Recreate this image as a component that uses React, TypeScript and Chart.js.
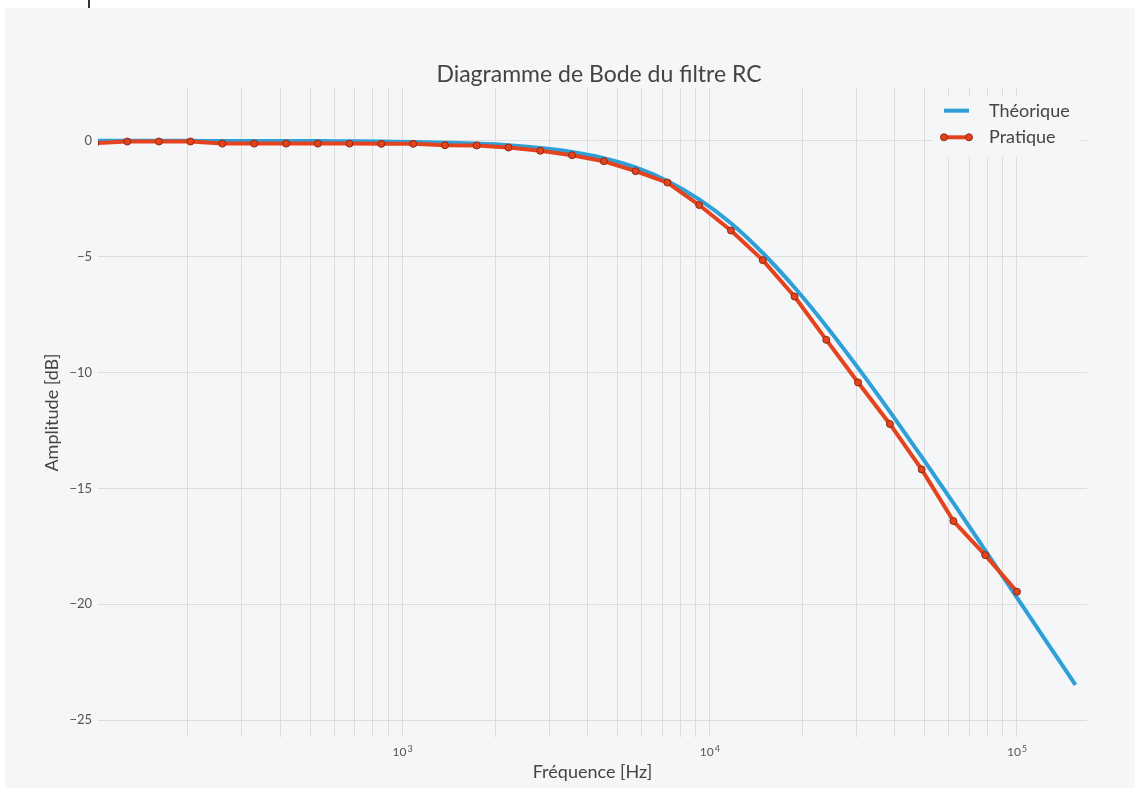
import { useEffect, useRef } from 'react';
import { Chart, registerables } from 'chart.js';

Chart.register(...registerables);

const freqPratique = [100, 127, 161, 204, 259, 329, 418, 530, 672, 853, 1083, 1374, 1743, 2212, 2807, 3562, 4520, 5736, 7279, 9237, 11721, 14874, 18874, 23950, 30392, 38566, 48939, 62102, 78805, 100000];
const ampPratique = [-0.10, -0.03, -0.03, -0.03, -0.12, -0.12, -0.12, -0.12, -0.12, -0.13, -0.13, -0.19, -0.20, -0.29, -0.43, -0.62, -0.88, -1.31, -1.80, -2.77, -3.87, -5.15, -6.72, -8.59, -10.43, -12.22, -14.18, -16.41, -17.88, -19.46];

// courbe théorique (bleue)
const freqTheorique = [100, 127, 161, 204, 259, 329, 418, 530, 672, 853, 1083, 1374, 1743, 2212, 2807, 3562, 4520, 5736, 7279, 9237, 11721, 14874, 18874, 23950, 30392, 38566, 48939, 62102, 78805, 100000, 126900, 155000];
const ampTheorique = [0, 0, 0, 0, -0.01, -0.01, -0.01, -0.01, -0.02, -0.03, -0.05, -0.08, -0.12, -0.19, -0.31, -0.48, -0.75, -1.15, -1.73, -2.53, -3.56, -4.84, -6.33, -8.0, -9.8, -11.69, -13.64, -15.64, -17.67, -19.71, -21.76, -23.48];

const gridFreqs = [200, 300, 400, 500, 600, 700, 800, 900, 1000, 2000, 3000, 4000, 5000, 6000, 7000, 8000, 9000, 10000, 20000, 30000, 40000, 50000, 60000, 70000, 80000, 90000, 100000];
const xTickValues = [1000, 10000, 100000];
const xTickExponents = ['3', '4', '5'];
const yTickValues = [-25, -20, -15, -10, -5, 0];

const BG = '#f5f6f8';
const BLUE = '#2f9fd8';
const RED = '#e5431e';
const RED_EDGE = '#8b2a12';
const FONT = 'Lato, sans-serif';

const overlayPlugin = {
  id: 'overlay',
  afterDraw(chart: any) {
    const { ctx, chartArea } = chart;
    ctx.save();
    // titre
    ctx.fillStyle = '#444';
    ctx.font = `23px ${FONT}`;
    ctx.textAlign = 'center';
    ctx.textBaseline = 'middle';
    ctx.fillText('Diagramme de Bode du filtre RC', 599, 75);

    // étiquettes 10^n de l'axe x
    const xs = chart.scales.x;
    ctx.fillStyle = '#555';
    ctx.textBaseline = 'alphabetic';
    ctx.textAlign = 'left';
    xTickValues.forEach((v, i) => {
      const px = xs.getPixelForValue(v);
      ctx.font = `12px ${FONT}`;
      const wBase = ctx.measureText('10').width;
      ctx.font = `9px ${FONT}`;
      const wExp = ctx.measureText(xTickExponents[i]).width;
      const left = px - (wBase + wExp + 1) / 2;
      ctx.font = `12px ${FONT}`;
      ctx.fillText('10', left, chartArea.bottom + 19);
      ctx.font = `9px ${FONT}`;
      ctx.fillText(xTickExponents[i], left + wBase + 1, chartArea.bottom + 14.5);
    });

    // légende dans le graphe
    const x0 = chartArea.right - 155;
    const y0 = chartArea.top + 8;
    ctx.textBaseline = 'middle';
    ctx.fillStyle = BG;
    ctx.fillRect(x0, y0, 148, 61);
    chart.data.datasets.forEach((ds: any, i: number) => {
      const y = y0 + 14.7 + i * 26.6;
      ctx.strokeStyle = ds.borderColor;
      ctx.lineWidth = 4;
      ctx.beginPath();
      ctx.moveTo(x0 + 12, y);
      ctx.lineTo(x0 + 37, y);
      ctx.stroke();
      if (ds.pointRadius > 0) {
        [x0 + 12, x0 + 37].forEach(px => {
          ctx.beginPath();
          ctx.arc(px, y, ds.pointRadius, 0, Math.PI * 2);
          ctx.fillStyle = ds.pointBackgroundColor;
          ctx.fill();
          ctx.lineWidth = 1;
          ctx.strokeStyle = ds.pointBorderColor;
          ctx.stroke();
        });
      }
      ctx.fillStyle = '#444';
      ctx.font = `18px ${FONT}`;
      ctx.textAlign = 'left';
      ctx.fillText(ds.label, x0 + 57, y);
    });
    ctx.restore();
  },
};

export default function App() {
  const canvasRef = useRef<HTMLCanvasElement>(null);

  useEffect(() => {
    if (!canvasRef.current) return;
    const chart = new Chart(canvasRef.current, {
      type: 'line',
      data: {
        datasets: [
          {
            label: 'Théorique',
            data: freqTheorique.map((f, i) => ({ x: f, y: ampTheorique[i] })),
            borderColor: BLUE,
            borderWidth: 4,
            pointRadius: 0,
            cubicInterpolationMode: 'monotone',
            order: 2,
            clip: 0,
          },
          {
            label: 'Pratique',
            data: freqPratique.map((f, i) => ({ x: f, y: ampPratique[i] })),
            borderColor: RED,
            borderWidth: 4,
            borderJoinStyle: 'round',
            pointRadius: 3.5,
            pointBackgroundColor: RED,
            pointBorderColor: RED_EDGE,
            pointBorderWidth: 1,
            order: 1,
            clip: 0,
          },
        ],
      },
      options: {
        animation: false,
        responsive: true,
        maintainAspectRatio: false,
        layout: { padding: { top: 88, right: 48, left: 0, bottom: 0 } },
        plugins: { legend: { display: false }, title: { display: false }, tooltip: { enabled: false } },
        scales: {
          x: {
            type: 'logarithmic',
            min: 102,
            max: 169000,
            afterBuildTicks: (axis: any) => { axis.ticks = gridFreqs.map(v => ({ value: v })); },
            afterFit: (scale: any) => { scale.height = 51; },
            grid: { color: '#dcdcdc', lineWidth: 1, drawTicks: false },
            border: { display: false },
            ticks: { autoSkip: false, maxRotation: 0, callback: () => '' },
            title: { display: true, text: 'Fréquence [Hz]', color: '#444', font: { family: FONT, size: 18 }, padding: { top: 0, bottom: 4.6 } },
          },
          y: {
            type: 'linear',
            min: -25.73,
            max: 2.28,
            afterBuildTicks: (axis: any) => { axis.ticks = yTickValues.map(v => ({ value: v })); },
            afterFit: (scale: any) => { scale.width = 98; },
            grid: { color: '#dcdcdc', lineWidth: 1, drawTicks: false },
            border: { display: false },
            ticks: {
              padding: 6,
              color: '#555',
              font: { family: FONT, size: 13 },
              callback: (v: any) => (Number(v) < 0 ? '−' + Math.abs(Number(v)) : String(v)),
            },
            title: { display: true, text: 'Amplitude [dB]', color: '#444', font: { family: FONT, size: 18 }, padding: { top: 41.2, bottom: 0 } },
          },
        },
      },
      plugins: [overlayPlugin],
    });
    return () => chart.destroy();
  }, []);

  return (
    <div style={{ position: 'fixed', left: 0, top: 0, width: 1135, height: 788, background: '#fff' }}>
      <div style={{ position: 'absolute', left: 5, top: 8, right: 0, bottom: 0, background: BG }} />
      <div style={{ position: 'absolute', left: 88, top: 0, width: 1.5, height: 8, background: '#333' }} />
      <div style={{ position: 'absolute', left: 0, top: 0, width: 1135, height: 788 }}>
        <canvas ref={canvasRef} />
      </div>
    </div>
  );
}
